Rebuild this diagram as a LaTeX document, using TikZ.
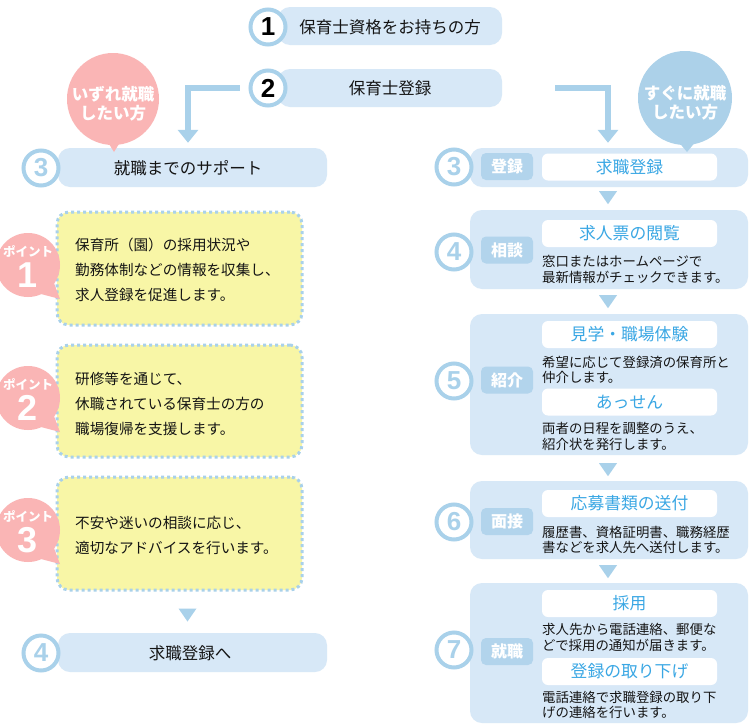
\documentclass[tikz,border=0pt]{standalone}
\usepackage{fontspec}
\setmainfont{Noto Sans CJK JP}
\newfontfamily\digitfont{Liberation Sans}
\usetikzlibrary{arrows.meta,calc}
\definecolor{boxblue}{RGB}{215,232,247}
\definecolor{lineblue}{RGB}{169,209,234}
\definecolor{tagblue}{RGB}{178,212,236}
\definecolor{headblue}{RGB}{58,167,228}
\definecolor{pinkc}{RGB}{250,181,181}
\definecolor{bubblue}{RGB}{172,209,233}
\definecolor{yellowc}{RGB}{248,246,166}
\definecolor{textc}{RGB}{20,20,20}
\tikzset{
  bluebox/.style={fill=boxblue, rounded corners=12pt, inner sep=0pt},
  numc/.style={circle, draw=lineblue, line width=4pt, fill=white, minimum size=35pt, inner sep=0pt,
    font=\digitfont\bfseries\fontsize{26}{26}\selectfont, text=lineblue},
  numk/.style={numc, text=black},
  tagbox/.style={fill=tagblue, rounded corners=5pt, minimum width=52pt, minimum height=27pt, inner sep=0pt,
    text=white, font=\bfseries\fontsize{16}{16}\selectfont},
  headbox/.style={fill=white, rounded corners=6pt, minimum width=175pt, minimum height=27pt, inner sep=0pt,
    text=headblue, font=\fontsize{16.8}{16.8}\selectfont},
  bodytxt/.style={anchor=west, inner sep=0pt, align=left, text=textc, font=\fontsize{13.4}{15.5}\selectfont},
  titletxt/.style={inner sep=0pt, text=textc, font=\fontsize{16.5}{16.5}\selectfont},
  pointbox/.style={fill=yellowc, draw=lineblue, line width=3pt, dash pattern=on 3pt off 3pt,
    rounded corners=12pt, minimum width=245pt, inner sep=0pt},
  pointtxt/.style={anchor=west, inner sep=0pt, align=left, text=textc, font=\fontsize{14.6}{25}\selectfont},
  pointbub/.style={circle, fill=pinkc, minimum size=64pt, inner sep=0pt},
  pointlbl/.style={inner sep=0pt, text=white, font=\bfseries\fontsize{12.5}{12.5}\selectfont},
  pointnum/.style={inner sep=0pt, text=white, font=\digitfont\bfseries\fontsize{36}{36}\selectfont},
  bubtxt/.style={inner sep=0pt, align=center, text=white, font=\bfseries\fontsize{16.5}{19}\selectfont},
  flowarrow/.style={draw=lineblue, line width=6pt, -{Triangle[width=20pt,length=13pt]}},
  tri/.style={fill=lineblue}
}
\begin{document}
\begin{tikzpicture}[x=1pt,y=-1pt]
\useasboundingbox (0,0) rectangle (750,726);
\fill[white] (0,0) rectangle (750,726);

% top steps
\node[bluebox, minimum width=224pt, minimum height=38pt] (b1) at (390,26) {};
\node[titletxt] (t1) at (390,27) {保育士資格をお持ちの方};
\node[numk] (c1) at (268,27) {1};
\node[bluebox, minimum width=224pt, minimum height=38pt] (b2) at (390,88) {};
\node[titletxt] (t2) at (390,88) {保育士登録};
\node[numk] (c2) at (268,88) {2};

% left column step 3
\node[bluebox, minimum width=269pt, minimum height=39pt] (L3) at (192.5,167.5) {};
\node[titletxt] (L3t) at (188,168) {就職までのサポート};
\node[numc] (L3c) at (41,168) {3};

% right column step 3
\node[bluebox, minimum width=278pt, minimum height=39pt] (R3) at (609,167.5) {};
\node[numc] (R3c) at (454,167) {3};
\node[tagbox] (R3g) at (507,166.5) {登録};
\node[headbox] (R3h) at (629.5,167) {求職登録};

% arrows from step 2
\draw[flowarrow] ($(c2.west)+(-9,0)$) -| ($(L3.north)+(-4.5,-5)$);
\coordinate (rs) at (555,88);
\draw[flowarrow] (rs) -| ($(R3.north)+(-1,-5)$);

% bubbles
\node[circle, fill=pinkc, minimum size=92pt, inner sep=0pt] (bubL) at (113,99) {};
\fill[pinkc] ($(bubL.center)+(-7,40)$) -- ($(bubL.center)+(9,40)$) -- ($(bubL.center)+(1,53)$) -- cycle;
\node[bubtxt] (bubLt) at (113,104) {いずれ就職\\したい方};
\node[circle, fill=bubblue, minimum size=94pt, inner sep=0pt] (bubR) at (685,98) {};
\fill[bubblue] ($(bubR.center)+(-8,42)$) -- ($(bubR.center)+(12,42)$) -- ($(bubR.center)+(2,54)$) -- cycle;
\node[bubtxt] (bubRt) at (685,103) {すぐに就職\\したい方};

% right step 4
\node[bluebox, minimum width=278pt, minimum height=79pt] (R4) at (609,249.5) {};
\node[numc] (R4c) at (454,252) {4};
\node[tagbox] (R4g) at (507,250) {相談};
\node[headbox] (R4h) at (629.5,233.5) {求人票の閲覧};
\node[bodytxt] (R4b) at (542,269.5) {窓口またはホームページで\\最新情報がチェックできます。};

% right step 5
\node[bluebox, minimum width=278pt, minimum height=141pt] (R5) at (609,384.5) {};
\node[numc] (R5c) at (454,381) {5};
\node[tagbox] (R5g) at (507,380) {紹介};
\node[headbox] (R5h1) at (629.5,334.5) {見学・職場体験};
\node[bodytxt] (R5b1) at (542,370) {希望に応じて登録済の保育所と\\仲介します。};
\node[headbox] (R5h2) at (629.5,402) {あっせん};
\node[bodytxt] (R5b2) at (542,436.5) {両者の日程を調整のうえ、\\紹介状を発行します。};

% right step 6
\node[bluebox, minimum width=278pt, minimum height=78pt] (R6) at (609,520) {};
\node[numc] (R6c) at (454,522) {6};
\node[tagbox] (R6g) at (507,521.5) {面接};
\node[headbox] (R6h) at (629.5,503.5) {応募書類の送付};
\node[bodytxt] (R6b) at (542,540) {履歴書、資格証明書、職務経歴\\書などを求人先へ送付します。};

% right step 7
\node[bluebox, minimum width=278pt, minimum height=140pt] (R7) at (609,653) {};
\node[numc] (R7c) at (454,650) {7};
\node[tagbox] (R7g) at (507,651.5) {就職};
\node[headbox] (R7h1) at (629.5,603.5) {採用};
\node[bodytxt] (R7b1) at (542,637.5) {求人先から電話連絡、郵便な\\どで採用の通知が届きます。};
\node[headbox] (R7h2) at (629.5,671.5) {登録の取り下げ};
\node[bodytxt] (R7b2) at (542,705) {電話連絡で求職登録の取り下\\げの連絡を行います。};

% right triangles
\fill[tri] ($(R3.south)+(-10,4)$) -- ++(18,0) -- ++(-9,13) -- cycle;
\fill[tri] ($(R4.south)+(-10,6)$) -- ++(18,0) -- ++(-9,13) -- cycle;
\fill[tri] ($(R5.south)+(-10,8)$) -- ++(18,0) -- ++(-9,13) -- cycle;
\fill[tri] ($(R6.south)+(-10,6)$) -- ++(18,0) -- ++(-9,13) -- cycle;

% left points
\node[pointbox, minimum height=113pt] (P1) at (179.5,268.5) {};
\node[pointtxt] (P1t) at (75,270) {保育所（園）の採用状況や\\勤務体制などの情報を収集し、\\求人登録を促進します。};
\node[pointbub] (P1b) at (28,265) {};
\fill[pinkc] ($(P1b.center)+(26,18)$) -- ($(P1b.center)+(13,29)$) -- ($(P1b.center)+(32,34)$) -- cycle;
\node[pointlbl] (P1p) at (28,251) {ポイント};
\node[pointnum] (P1n) at (28,275) {1};

\node[pointbox, minimum height=112pt] (P2) at (179.5,401) {};
\node[pointtxt] (P2t) at (75,404) {研修等を通じて、\\休職されている保育士の方の\\職場復帰を支援します。};
\node[pointbub] (P2b) at (28,398) {};
\fill[pinkc] ($(P2b.center)+(26,18)$) -- ($(P2b.center)+(13,29)$) -- ($(P2b.center)+(32,34)$) -- cycle;
\node[pointlbl] (P2p) at (28,384) {ポイント};
\node[pointnum] (P2n) at (28,408) {2};

\node[pointbox, minimum height=113pt] (P3) at (179.5,533.5) {};
\node[pointtxt] (P3t) at (75,535) {不安や迷いの相談に応じ、\\適切なアドバイスを行います。};
\node[pointbub] (P3b) at (28,530) {};
\fill[pinkc] ($(P3b.center)+(26,18)$) -- ($(P3b.center)+(13,29)$) -- ($(P3b.center)+(32,34)$) -- cycle;
\node[pointlbl] (P3p) at (28,516) {ポイント};
\node[pointnum] (P3n) at (28,540) {3};

% left step 4
\fill[tri] ($(P3.south)+(-1,17)$) -- ++(18,0) -- ++(-9,13) -- cycle;
\node[bluebox, minimum width=269pt, minimum height=39pt] (L4) at (192.5,652.5) {};
\node[titletxt] (L4t) at (190,653) {求職登録へ};
\node[numc] (L4c) at (41,653) {4};
\end{tikzpicture}
\end{document}
